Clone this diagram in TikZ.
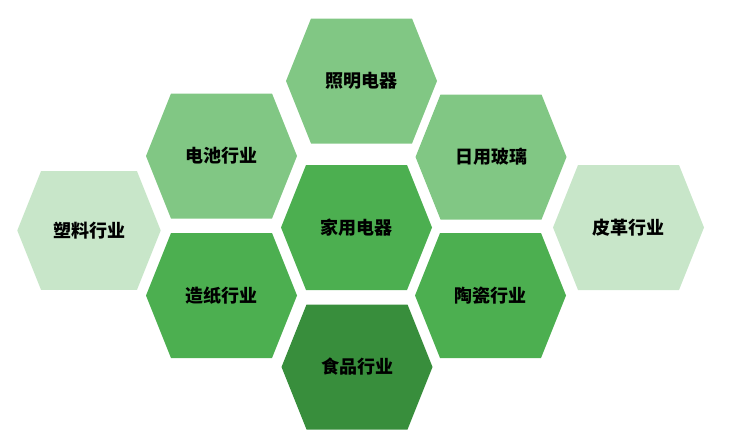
\documentclass[tikz,border=0pt]{standalone}
\usepackage{fontspec}
\newfontfamily\cjk{Noto Sans CJK SC}
\definecolor{paleGreen}{HTML}{C8E6C9}
\definecolor{lightGreen}{HTML}{81C784}
\definecolor{midGreen}{HTML}{4CAF50}
\definecolor{darkGreen}{HTML}{388E3C}
\tikzset{celltext/.style={font=\cjk\bfseries\fontsize{18}{21}\selectfont, text=black}}
\begin{document}
\begin{tikzpicture}[x=1pt,y=-1pt]
\useasboundingbox (0,0) rectangle (747,437);
% hexagon cells: x/y/size/colour/text/name
\foreach \x/\y/\s/\c/\t/\n in {
  361.5/81/1/lightGreen/照明电器/zhaoming,
  221.5/156/1/lightGreen/电池行业/dianchi,
  491/157/1/lightGreen/日用玻璃/boli,
  89/230.5/0.95/paleGreen/塑料行业/suliao,
  356.5/227.5/1/midGreen/家用电器/jiadian,
  628.5/227.5/1/paleGreen/皮革行业/pige,
  221.5/295.5/1/midGreen/造纸行业/zaozhi,
  490.5/295.5/1/midGreen/陶瓷行业/taoci,
  357/367/1/darkGreen/食品行业/shipin}{
  \fill[\c] (\x-75.5*\s,\y) -- ++(25*\s,-62.5*\s) -- ++(101*\s,0)
    -- ++(25*\s,62.5*\s) -- ++(-25*\s,62.5*\s) -- ++(-101*\s,0) -- cycle;
  \node[celltext] (\n) at (\x,\y) {\t};
}
\end{tikzpicture}
\end{document}
